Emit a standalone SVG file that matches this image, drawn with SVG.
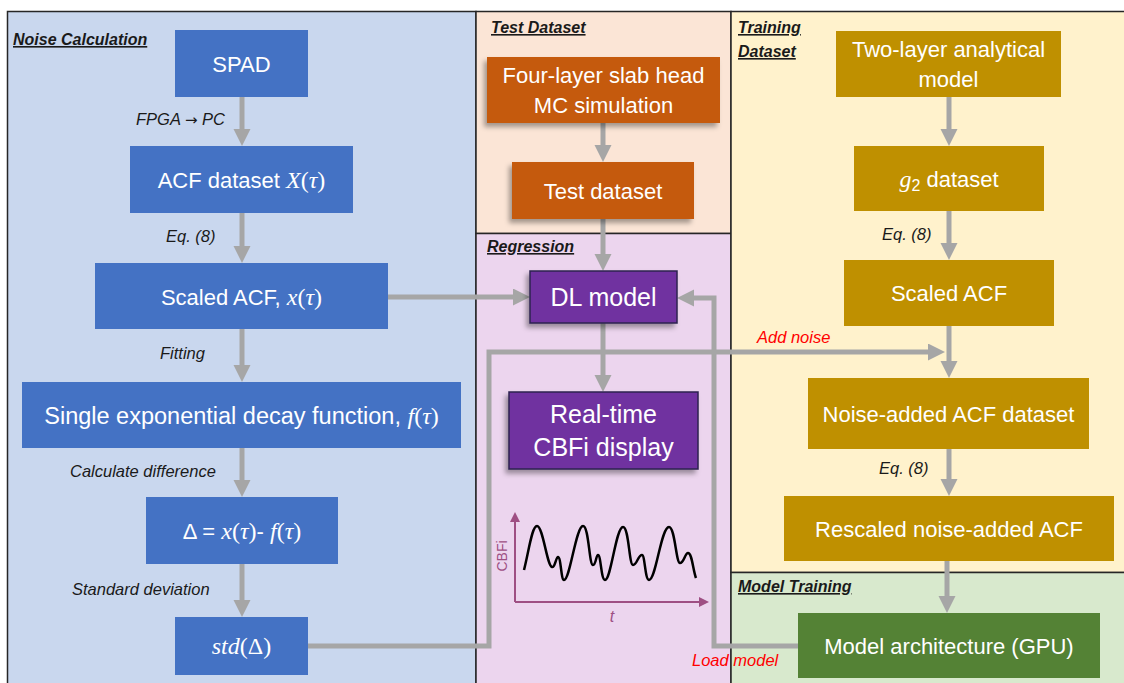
<svg xmlns="http://www.w3.org/2000/svg" width="1124" height="683" viewBox="0 0 1124 683">
<defs>
<marker id="ah" markerUnits="userSpaceOnUse" markerWidth="18" markerHeight="18" refX="7" refY="8.5" orient="auto">
<path d="M0,0 L17,8.5 L0,17 z" fill="#a6a6a6"/>
</marker>
<marker id="ahp" markerUnits="userSpaceOnUse" markerWidth="12" markerHeight="12" refX="4" refY="5" orient="auto">
<path d="M0,0 L10,5 L0,10 z" fill="#9e4f83"/>
</marker>
<filter id="sh" x="-10%" y="-10%" width="125%" height="140%">
<feDropShadow dx="-3" dy="4" stdDeviation="2.5" flood-color="#000" flood-opacity="0.35"/>
</filter>
</defs>
<style>
.panel{stroke:#262626;stroke-width:1.5}
.title{font-family:"Liberation Sans",Arial,sans-serif;font-size:16px;font-weight:bold;font-style:italic;text-decoration:underline;fill:#1a1a1a}
.lbl{font-family:"Liberation Sans",Arial,sans-serif;font-size:16.5px;font-style:italic;fill:#1a1a1a}
.red{fill:#ff0000}
.nt{font-family:"Liberation Sans",Arial,sans-serif;font-size:22px;fill:#ffffff;text-anchor:middle}
.big{font-size:25px}
.m{font-family:"Liberation Serif","Times New Roman",serif;font-size:24px}
.mi{font-family:"Liberation Serif","Times New Roman",serif;font-size:24px;font-style:italic}
.blue{fill:#4472c4}
.orange{fill:#c55a11}
.purple{fill:#7030a0;stroke:#2b2350;stroke-width:1.5}
.gold{fill:#bf9000}
.green{fill:#548235}
.conn{fill:none;stroke:#a6a6a6;stroke-width:5}
</style>

<g id="panels">
<rect class="panel" x="7.5" y="11.5" width="468.5" height="680" fill="#c9d7ee"/>
<rect class="panel" x="476" y="11.5" width="255" height="222" fill="#fbe5d6"/>
<rect class="panel" x="476" y="233.5" width="255" height="460" fill="#ecd5ee"/>
<rect class="panel" x="731" y="11.5" width="400" height="561" fill="#fff2cc"/>
<rect class="panel" x="731" y="572.5" width="400" height="120" fill="#d8e9cd"/>
<text class="title" x="13" y="45">Noise Calculation</text>
<text class="title" x="491" y="33">Test Dataset</text>
<text class="title" x="487" y="252">Regression</text>
<text class="title" x="738" y="33">Training</text>
<text class="title" x="738" y="57">Dataset</text>
<text class="title" x="738" y="592">Model Training</text>
</g>

<g id="connectors">
<line class="conn" x1="242" y1="97" x2="242" y2="136" marker-end="url(#ah)"/>
<line class="conn" x1="242" y1="213" x2="242" y2="253" marker-end="url(#ah)"/>
<line class="conn" x1="242" y1="329" x2="242" y2="372" marker-end="url(#ah)"/>
<line class="conn" x1="242" y1="448" x2="242" y2="487" marker-end="url(#ah)"/>
<line class="conn" x1="242" y1="564" x2="242" y2="607" marker-end="url(#ah)"/>
<line class="conn" x1="388" y1="297" x2="520" y2="297" marker-end="url(#ah)"/>
<line class="conn" x1="603" y1="123" x2="603" y2="152" marker-end="url(#ah)"/>
<line class="conn" x1="603" y1="219" x2="603" y2="261" marker-end="url(#ah)"/>
<line class="conn" x1="603" y1="323" x2="603" y2="382" marker-end="url(#ah)"/>
<polyline class="conn" points="308,646 489,646 489,352 935,352" marker-end="url(#ah)"/>
<polyline class="conn" points="798,646 714,646 714,298 687,298" marker-end="url(#ah)"/>
<line class="conn" x1="949" y1="97" x2="949" y2="136" marker-end="url(#ah)"/>
<line class="conn" x1="949" y1="211" x2="949" y2="250" marker-end="url(#ah)"/>
<line class="conn" x1="949" y1="326" x2="949" y2="368" marker-end="url(#ah)"/>
<line class="conn" x1="949" y1="449" x2="949" y2="486" marker-end="url(#ah)"/>
<line class="conn" x1="947" y1="561" x2="947" y2="603" marker-end="url(#ah)"/>
<text class="lbl" x="136" y="125">FPGA <tspan font-family="DejaVu Sans,sans-serif" font-style="normal" font-size="15">→</tspan> PC</text>
<text class="lbl" x="166" y="242">Eq. (8)</text>
<text class="lbl" x="160" y="359">Fitting</text>
<text class="lbl" x="70" y="477">Calculate difference</text>
<text class="lbl" x="72" y="595">Standard deviation</text>
<text class="lbl" x="882" y="240">Eq. (8)</text>
<text class="lbl" x="879" y="474">Eq. (8)</text>
<text class="lbl red" x="757" y="343">Add noise</text>
<text class="lbl red" x="692" y="666">Load model</text>
</g>

<g id="spad"><rect class="blue" x="175" y="30" width="133" height="67"/>
<text class="nt" x="241.5" y="71.5">SPAD</text></g>
<g id="acf-dataset"><rect class="blue" x="130" y="146" width="223" height="67"/>
<text class="nt" x="241.5" y="188">ACF dataset <tspan class="mi">X</tspan><tspan class="m">(</tspan><tspan class="mi">τ</tspan><tspan class="m">)</tspan></text></g>
<g id="scaled-acf"><rect class="blue" x="95" y="263" width="293" height="66"/>
<text class="nt" x="241.5" y="304.5">Scaled ACF, <tspan class="mi">x</tspan><tspan class="m">(</tspan><tspan class="mi">τ</tspan><tspan class="m">)</tspan></text></g>
<g id="single-exp"><rect class="blue" x="22" y="382" width="439" height="66"/>
<text class="nt" x="241.5" y="423.5" font-size="23.5px" style="font-size:23.5px">Single exponential decay function, <tspan class="mi">f</tspan><tspan class="m">(</tspan><tspan class="mi">τ</tspan><tspan class="m">)</tspan></text></g>
<g id="delta"><rect class="blue" x="146" y="497" width="192" height="67"/>
<text class="nt" x="242" y="538.5">Δ = <tspan class="mi">x</tspan><tspan class="m">(</tspan><tspan class="mi">τ</tspan><tspan class="m">)</tspan>- <tspan class="mi">f</tspan><tspan class="m">(</tspan><tspan class="mi">τ</tspan><tspan class="m">)</tspan></text></g>
<g id="std"><rect class="blue" x="175" y="617" width="133" height="58"/>
<text class="nt" x="241.5" y="654"><tspan class="mi">std</tspan><tspan class="m">(Δ)</tspan></text></g>

<g id="four-layer"><rect class="orange" x="487" y="57" width="233" height="66" filter="url(#sh)"/>
<text class="nt" x="603.5" y="83">Four-layer slab head</text>
<text class="nt" x="603.5" y="113">MC simulation</text></g>
<g id="test-dataset"><rect class="orange" x="512" y="162" width="182" height="57" filter="url(#sh)"/>
<text class="nt" x="603" y="199">Test dataset</text></g>
<g id="dl-model"><rect class="purple" x="530" y="271" width="147" height="52" filter="url(#sh)"/>
<text class="nt big" x="603.5" y="306">DL model</text></g>
<g id="realtime"><rect class="purple" x="509" y="392" width="189" height="77" filter="url(#sh)"/>
<text class="nt big" x="603.5" y="423">Real-time</text>
<text class="nt big" x="603.5" y="456">CBFi display</text></g>

<g id="cbfi-chart">
<line x1="515" y1="602" x2="515" y2="518" stroke="#9e4f83" stroke-width="2" marker-end="url(#ahp)"/>
<line x1="515" y1="602" x2="703" y2="602" stroke="#9e4f83" stroke-width="2" marker-end="url(#ahp)"/>
<text x="507" y="556" transform="rotate(-90 507 556)" font-family="Liberation Sans,Arial,sans-serif" font-size="14" fill="#9e4f83" text-anchor="middle">CBFi</text>
<text x="612" y="622" font-family="Liberation Sans,Arial,sans-serif" font-size="16" font-style="italic" fill="#9e4f83" text-anchor="middle">t</text>
<path d="M524,570 C529,550 532,526 537,526 C543,526 547,566 552,567 C555,568 556,557 558,557 C561,557 561,580 564,580 C570,580 576,526 583,526 C589,526 589,565 593,565 C596,565 596,555 598,555 C601,555 601,580 605,580 C611,580 616,527 623,527 C629,527 629,565 633,565 C637,565 638,555 642,555 C645,555 645,580 649,580 C656,580 661,527 669,527 C675,527 676,563 680,563 C684,563 685,553 688,553 C692,553 693,570 696,578" fill="none" stroke="#000" stroke-width="2.5"/>
</g>

<g id="two-layer"><rect class="gold" x="836" y="31" width="225" height="66"/>
<text class="nt" x="948.5" y="57">Two-layer analytical</text>
<text class="nt" x="948.5" y="87">model</text></g>
<g id="g2-dataset"><rect class="gold" x="854" y="146" width="190" height="65"/>
<text class="nt" x="949" y="187"><tspan class="mi">g</tspan><tspan font-size="16" dy="4">2</tspan><tspan dy="-4"> dataset</tspan></text></g>
<g id="scaled-acf-train"><rect class="gold" x="844" y="260" width="210" height="66"/>
<text class="nt" x="949" y="301">Scaled ACF</text></g>
<g id="noise-added"><rect class="gold" x="808" y="378" width="281" height="71"/>
<text class="nt" x="948.5" y="421.5">Noise-added ACF dataset</text></g>
<g id="rescaled"><rect class="gold" x="784" y="496" width="330" height="65"/>
<text class="nt" x="949" y="536.5">Rescaled noise-added ACF</text></g>
<g id="model-arch"><rect class="green" x="798" y="613" width="302" height="65"/>
<text class="nt" x="949" y="653.5">Model architecture (GPU)</text></g>
</svg>
